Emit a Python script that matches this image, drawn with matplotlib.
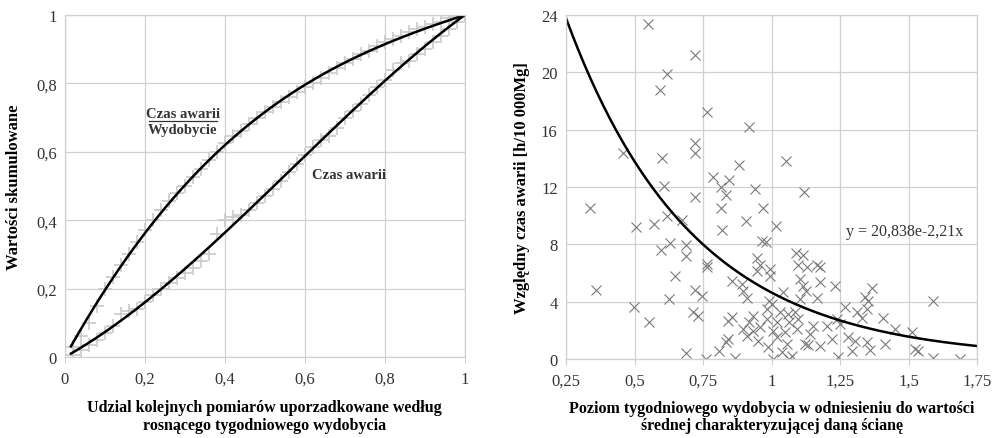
import numpy as np
import matplotlib
matplotlib.use("Agg")
import matplotlib.pyplot as plt
from matplotlib.ticker import FuncFormatter

plt.rcParams['font.family'] = ['Liberation Serif', 'DejaVu Serif']

# ---------------- Left panel data ----------------
emp_x = [0.02, 0.04, 0.06, 0.08, 0.10, 0.12, 0.14, 0.16, 0.18, 0.20, 0.22, 0.24, 0.26,
         0.28, 0.30, 0.32, 0.34, 0.36, 0.38, 0.40, 0.42, 0.44, 0.46, 0.48, 0.50, 0.52,
         0.54, 0.56, 0.58, 0.60, 0.62, 0.64, 0.66, 0.68, 0.70, 0.72, 0.74, 0.76, 0.78,
         0.80, 0.82, 0.84, 0.86, 0.88, 0.90, 0.92, 0.94, 0.96, 0.98, 1.00]
ratio_y = [0.03, 0.06, 0.10, 0.15, 0.20, 0.235, 0.27, 0.30, 0.335, 0.37, 0.40, 0.43, 0.455,
           0.48, 0.50, 0.525, 0.55, 0.575, 0.60, 0.625, 0.645, 0.66, 0.68, 0.70, 0.715, 0.73,
           0.745, 0.76, 0.775, 0.79, 0.80, 0.815, 0.83, 0.845, 0.86, 0.87, 0.885, 0.895, 0.91,
           0.92, 0.93, 0.94, 0.95, 0.96, 0.965, 0.975, 0.98, 0.99, 0.995, 1.00]
failure_y = [0.005, 0.02, 0.035, 0.05, 0.07, 0.09, 0.125, 0.135, 0.14, 0.16, 0.18, 0.20, 0.215,
             0.23, 0.245, 0.26, 0.28, 0.30, 0.36, 0.40, 0.41, 0.415, 0.43, 0.45, 0.47, 0.49,
             0.515, 0.54, 0.565, 0.59, 0.615, 0.635, 0.645, 0.67, 0.70, 0.72, 0.74, 0.765, 0.79,
             0.81, 0.84, 0.86, 0.865, 0.885, 0.90, 0.92, 0.94, 0.96, 0.98, 1.00]
left_ticks = [0, 0.2, 0.4, 0.6, 0.8, 1.0]

# ---------------- Right panel data ----------------
scatter_x = [0.55, 0.721, 0.617, 0.593, 0.763, 0.919, 0.721, 0.721, 0.459, 0.599, 1.053, 0.881,
             0.788, 0.846, 0.608, 0.815, 0.94, 1.119, 0.834, 0.721, 0.338, 0.816, 0.97, 0.62,
             0.672, 0.906, 0.572, 1.016, 0.504, 0.82, 0.964, 0.98, 0.63, 0.687, 0.597, 1.089,
             1.116, 0.687, 0.948, 0.763, 0.763, 0.958, 1.098, 1.165, 1.128, 1.177, 0.995, 0.946,
             0.648, 0.995, 1.104, 0.855, 1.177, 0.891, 1.116, 1.232, 1.366, 0.36, 0.721, 0.895,
             1.126, 1.043, 0.745, 1.341, 0.91, 1.167, 0.626, 1.104, 0.992, 1.353, 1.59, 1.0,
             0.498, 1.268, 0.983, 1.347, 0.715, 1.031, 1.086, 1.311, 1.061, 0.934, 0.73, 0.855,
             1.408, 1.329, 0.983, 1.098, 1.238, 0.842, 0.919, 0.553, 1.019, 1.065, 1.25, 1.153,
             1.201, 0.958, 0.897, 1.092, 1.451, 0.934, 1.007, 1.511, 1.049, 1.14, 0.91, 1.021,
             1.28, 0.842, 1.22, 0.952, 1.305, 0.834, 1.347, 1.058, 1.122, 1.414, 1.134, 1.177,
             0.986, 1.524, 1.36, 0.81, 1.293, 1.536, 1.037, 0.688, 1.074, 1.244, 0.867, 1.59,
             0.76, 1.007, 1.065, 1.688]
scatter_y = [23.4, 21.2, 19.9, 18.8, 17.2, 16.2, 15.07, 14.4, 14.35, 14.0, 13.8, 13.5,
             12.68, 12.5, 12.05, 11.98, 11.86, 11.68, 11.44, 11.3, 10.5, 10.51, 10.51, 9.95,
             9.72, 9.63, 9.4, 9.26, 9.19, 9.0, 8.26, 8.14, 8.1, 7.96, 7.63, 7.4,
             7.26, 7.21, 7.02, 6.63, 6.4, 6.56, 6.56, 6.56, 6.4, 6.4, 6.28, 6.16,
             5.81, 5.81, 5.58, 5.46, 5.35, 5.23, 5.12, 5.12, 4.93, 4.84, 4.84, 4.77,
             4.77, 4.65, 4.42, 4.3, 4.23, 4.23, 4.19, 4.19, 4.07, 4.07, 4.07, 3.84,
             3.6, 3.6, 3.49, 3.49, 3.26, 3.26, 3.26, 3.26, 3.14, 3.02, 2.98, 2.91,
             2.84, 2.84, 2.79, 2.79, 2.79, 2.67, 2.6, 2.56, 2.56, 2.56, 2.45, 2.32,
             2.32, 2.21, 2.09, 2.09, 2.09, 1.98, 1.98, 1.91, 1.86, 1.74, 1.63, 1.51,
             1.51, 1.4, 1.4, 1.28, 1.28, 1.16, 1.16, 1.05, 1.05, 1.05, 0.98, 0.93,
             0.81, 0.7, 0.65, 0.58, 0.58, 0.58, 0.47, 0.42, 0.23, 0.12, 0.05, 0.05,
             0.0, 0.0, 0.0, 0.0]
trend_a = 41.0
trend_b = 2.18
right_xticks = [0.25, 0.5, 0.75, 1.0, 1.25, 1.5, 1.75]
right_yticks = [0, 4, 8, 12, 16, 20, 24]

GRID = '#d0d0d0'


def comma(v, pos=None):
    s = ('%g' % round(v, 3))
    return s.replace('.', ',')


def style_axes(ax):
    ax.grid(True, color=GRID, linewidth=0.9)
    ax.set_axisbelow(True)
    for s in ax.spines.values():
        s.set_color(GRID)
        s.set_linewidth(0.9)
    ax.tick_params(axis='both', which='both', length=0, labelsize=12,
                   colors='#333333', pad=6)
    ax.tick_params(axis='x', length=4, color=GRID, direction='out')
    ax.xaxis.set_major_formatter(FuncFormatter(comma))
    ax.yaxis.set_major_formatter(FuncFormatter(comma))


def fit_through_ends(x, y):
    # least-squares curve y = x + c1*x(1-x) + c2*x^2(1-x), fixed at (0,0) and (1,1)
    x = np.asarray(x, float)
    y = np.asarray(y, float)
    A = np.column_stack([x * (1 - x), x ** 2 * (1 - x)])
    c, *_ = np.linalg.lstsq(A, y - x, rcond=None)
    return lambda t: t + c[0] * t * (1 - t) + c[1] * t ** 2 * (1 - t)


fig = plt.figure(figsize=(9.92, 4.39), dpi=100)

# ---------------- Left ----------------
ax1 = fig.add_axes([0.0655, 0.1845, 0.403, 0.779])
ax1.plot(emp_x, ratio_y, linestyle='none', marker='+', markersize=10,
         markeredgewidth=1.2, color='#cacaca')
ax1.plot(emp_x, failure_y, linestyle='none', marker='+', markersize=10,
         markeredgewidth=1.2, color='#cacaca')
xx = np.linspace(0.015, 1.0, 200)
f_up = fit_through_ends(emp_x, ratio_y)
f_lo = fit_through_ends(emp_x, failure_y)
ax1.plot(xx, f_up(xx), color='black', linewidth=1.8)
ax1.plot(xx, f_lo(xx), color='black', linewidth=1.8)
ax1.set_xlim(0, 1)
ax1.set_ylim(0, 1)
ax1.set_xticks(left_ticks)
ax1.set_yticks(left_ticks)
style_axes(ax1)
ax1.set_xlabel('Udzial kolejnych pomiarów uporzadkowane według\nrosnącego tygodniowego wydobycia',
               fontsize=11.5, fontweight='bold', labelpad=9, linespacing=1.1)
ax1.set_ylabel('Wartości skumulowane', fontsize=12, fontweight='bold', labelpad=10)
ax1.text(0.295, 0.713, 'Czas awarii', ha='center', va='center', fontsize=10.5,
         fontweight='bold', color='#333333')
ax1.plot([0.21, 0.38], [0.69, 0.69], color='#333333', linewidth=0.9)
ax1.text(0.295, 0.665, 'Wydobycie', ha='center', va='center', fontsize=10.5,
         fontweight='bold', color='#333333')
ax1.text(0.71, 0.535, 'Czas awarii', ha='center', va='center', fontsize=10.5,
         fontweight='bold', color='#333333')

# ---------------- Right ----------------
ax2 = fig.add_axes([0.5706, 0.18, 0.4143, 0.7836])
ax2.plot(scatter_x, scatter_y, linestyle='none', marker='x', markersize=6.5,
         markeredgewidth=0.8, color='#7a7a7a')
xt = np.linspace(0.25, 1.75, 200)
ax2.plot(xt, trend_a * np.exp(-trend_b * xt), color='black', linewidth=1.8)
ax2.set_xlim(0.25, 1.75)
ax2.set_ylim(0, 24)
ax2.set_xticks(right_xticks)
ax2.set_yticks(right_yticks)
style_axes(ax2)
ax2.set_xlabel('Poziom tygodniowego wydobycia w odniesieniu do wartości\nśrednej charakteryzującej daną ścianę',
               fontsize=11.5, fontweight='bold', labelpad=8, linespacing=1.1)
ax2.set_ylabel('Względny czas awarii [h/10 000Mg]', fontsize=12, fontweight='bold', labelpad=8)
ax2.text(1.487, 8.93, 'y = 20,838e-2,21x', ha='center', va='center', fontsize=11.5,
         color='#333333')

fig.savefig('out.png', dpi=100)
